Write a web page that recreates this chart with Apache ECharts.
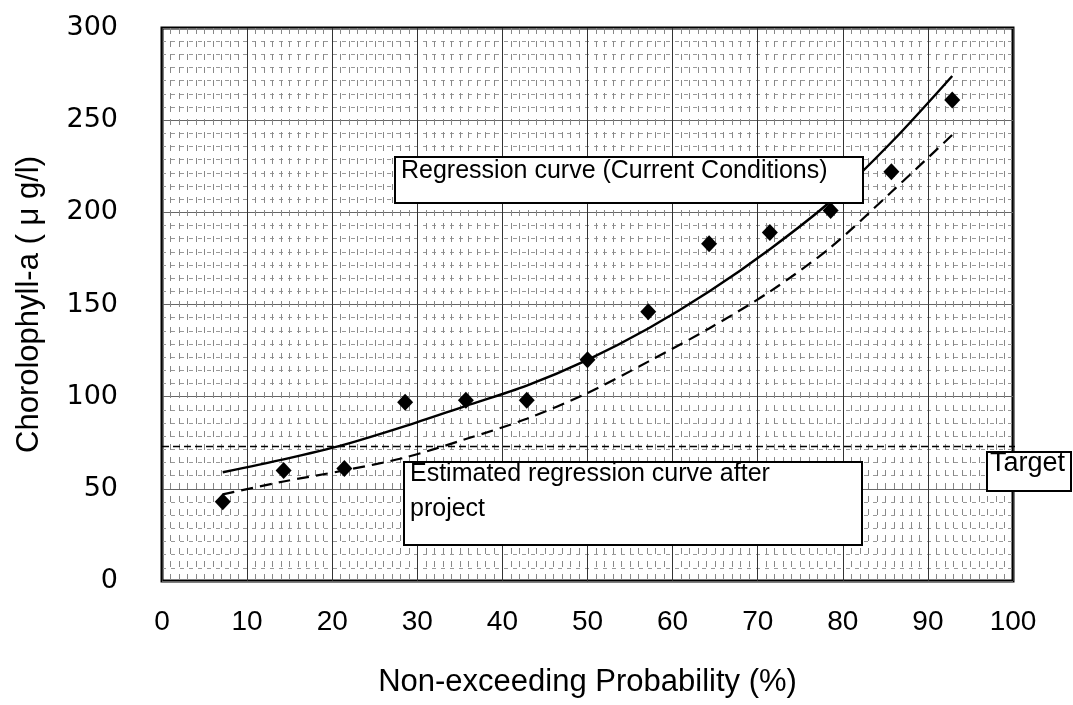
<!DOCTYPE html>
<html><head><meta charset="utf-8">
<script src="https://cdn.jsdelivr.net/npm/echarts@6/dist/echarts.min.js"></script>
<style>html,body{margin:0;padding:0;background:#fff}#c{width:1073px;height:705px}</style>
</head><body><div id="c"></div>
<script>
// Non-exceeding probability (%) of each observation (plotting positions)
const probability = [7.14, 14.29, 21.43, 28.57, 35.71, 42.86, 50.0, 57.14, 64.29, 71.43, 78.57, 85.71, 92.86];
// Observed Chlorophyll-a (µg/l)
const observed = [43, 60, 61, 97, 98, 98, 120, 146, 183, 189, 201, 222, 261];
// Regression curve (current conditions)
const currentCurve = [59, 66, 74, 84, 95, 106, 120, 137, 157, 180, 206, 238, 274];
// Estimated regression curve after project
const afterCurve = [47, 54, 60, 67, 77, 88, 102, 119, 137, 157, 181, 211, 242];
// Target level
const targetX = [0, 102.6];
const targetValue = 73;
// Tick labels
const xTicks = [0, 10, 20, 30, 40, 50, 60, 70, 80, 90, 100];
const yTicks = [0, 50, 100, 150, 200, 250, 300];

const chart = echarts.init(document.getElementById('c'), null, {renderer: 'canvas'});
const pair = (xs, ys) => xs.map((x, i) => [x, ys[i]]);

const option = {
  backgroundColor: '#fff',
  animation: false,
  grid: {left: 162, right: 60, top: 28, bottom: 124, show: true, borderColor: '#000', borderWidth: 3, backgroundColor: 'transparent'},
  xAxis: {
    type: 'value', min: xTicks[0], max: xTicks[xTicks.length - 1], interval: 10,
    name: 'Non-exceeding Probability (%)', nameLocation: 'middle', nameGap: 86,
    nameTextStyle: {fontFamily: 'Liberation Sans', fontSize: 31, color: '#000'},
    axisLine: {show: false}, axisTick: {show: false},
    axisLabel: {fontFamily: 'Liberation Sans', fontSize: 28, color: '#000', margin: 27, showMinLabel: true, showMaxLabel: true},
    splitLine: {show: true, lineStyle: {color: '#333', width: 1}},
    minorTick: {show: false, splitNumber: 10},
    minorSplitLine: {show: true, lineStyle: {color: '#888', width: 1, type: [6, 7]}}
  },
  yAxis: {
    type: 'value', min: yTicks[0], max: yTicks[yTicks.length - 1], interval: 50,
    name: 'Chorolophyll-a ( μ g/l)', nameLocation: 'middle', nameGap: 117, nameRotate: 90,
    nameTextStyle: {fontFamily: 'Liberation Sans', fontSize: 31, color: '#000'},
    axisLine: {show: false}, axisTick: {show: false},
    axisLabel: {fontFamily: 'DejaVu Sans', fontSize: 27, color: '#000', margin: 44, padding: [0, 0, 10, 0]},
    splitLine: {show: true, lineStyle: {color: '#666', width: 1}},
    minorTick: {show: false, splitNumber: 7},
    minorSplitLine: {show: true, lineStyle: {color: '#999', width: 1, type: [4, 5]}}
  },
  series: [
    {
      name: 'Target', type: 'line', data: pair(targetX, [targetValue, targetValue]),
      clip: false, symbol: 'none', z: 3,
      lineStyle: {color: '#000', width: 1.5, type: [7, 4]}
    },
    {
      name: 'Regression curve (Current Conditions)', type: 'line', data: pair(probability, currentCurve),
      smooth: 0.3, symbol: 'none', z: 4,
      lineStyle: {color: '#000', width: 2.4, type: 'solid'}
    },
    {
      name: 'Estimated regression curve after project', type: 'line', data: pair(probability, afterCurve),
      smooth: 0.3, symbol: 'none', z: 4,
      lineStyle: {color: '#000', width: 2.2, type: [12, 7]}
    },
    {
      name: 'Observed', type: 'scatter', data: pair(probability, observed),
      symbol: 'diamond', symbolSize: [16, 17], z: 6,
      itemStyle: {color: '#000', opacity: 1}
    }
  ],
  graphic: [
    {type: 'rect', z: 100, shape: {x: 395, y: 157, width: 468, height: 46}, style: {fill: '#fff', stroke: '#000', lineWidth: 2}},
    {type: 'text', z: 101, x: 401, y: 171, style: {text: 'Regression curve (Current Conditions)', font: '25px "Liberation Sans"', fill: '#000', verticalAlign: 'middle'}},
    {type: 'rect', z: 100, shape: {x: 404, y: 462, width: 458, height: 83}, style: {fill: '#fff', stroke: '#000', lineWidth: 2}},
    {type: 'text', z: 101, x: 410, y: 474, style: {text: 'Estimated regression curve after', font: '25px "Liberation Sans"', fill: '#000', verticalAlign: 'middle'}},
    {type: 'text', z: 101, x: 410, y: 509, style: {text: 'project', font: '25px "Liberation Sans"', fill: '#000', verticalAlign: 'middle'}},
    {type: 'rect', z: 100, shape: {x: 987, y: 452, width: 84, height: 39}, style: {fill: '#fff', stroke: '#000', lineWidth: 2}},
    {type: 'text', z: 101, x: 990, y: 464, style: {text: 'Target', font: '27px "Liberation Sans"', fill: '#000', verticalAlign: 'middle'}}
  ]
};
chart.setOption(option);
</script>
</body></html>
